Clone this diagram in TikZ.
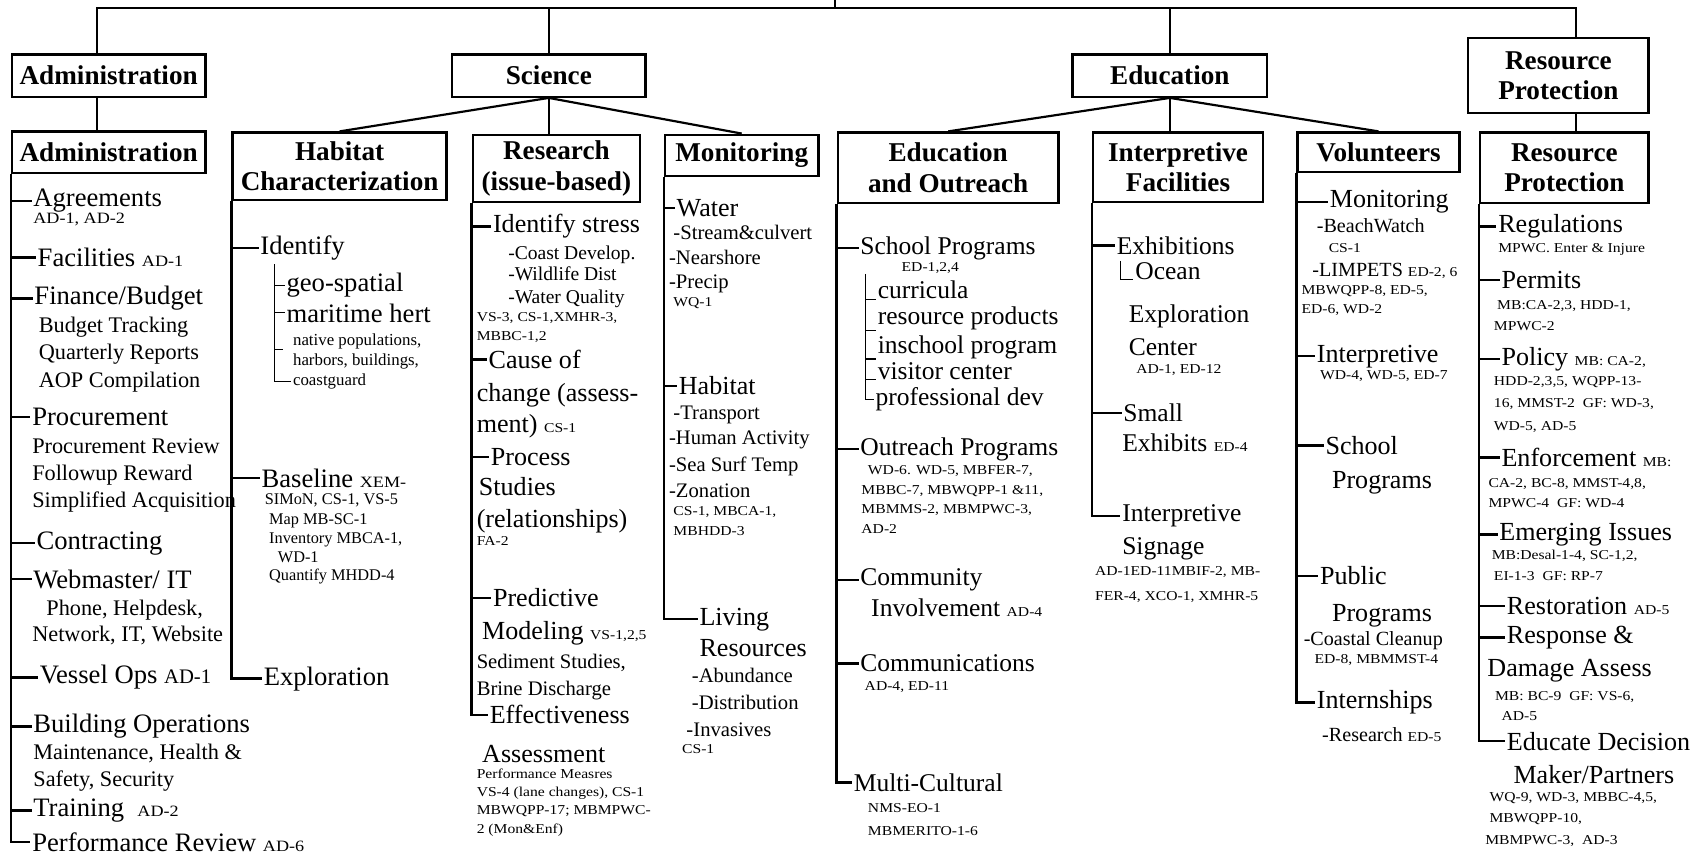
\documentclass[tikz,border=0pt]{standalone}
\usepackage{fontspec}
\setmainfont{Liberation Serif}
\newfontfamily\reffont[FakeStretch=1.15]{Liberation Serif}
\newcommand\refx[1]{{\reffont\fontsize{12.5}{12.5}\selectfont #1}}
\newcommand\refb[1]{{\reffont\fontsize{14.5}{14.5}\selectfont #1}}
\newcommand\T[5]{\node[tx,font={\fontsize{#4}{#4}\selectfont}] (#1) at (#2,{#3+0.3*#4}) {#5};}
\tikzset{
  box/.style={draw, line width=2.2pt, font={\fontsize{25}{28}\selectfont\bfseries}, align=center, inner sep=0pt},
  link/.style={line width=2pt},
  brk/.style={line width=2.2pt},
  thinl/.style={line width=1pt},
  tx/.style={anchor=base west, inner xsep=1.5pt, inner ysep=0pt},
}
\begin{document}
\begin{tikzpicture}[x=1pt,y=-1pt]
\useasboundingbox (0,0) rectangle (1568,787);
% top level boxes
\node[box, minimum width=178pt, minimum height=39pt] (ta) at (100,69.5) {Administration};
\node[box, minimum width=178pt, minimum height=39pt] (ts) at (505,69.5) {Science};
\node[box, minimum width=179pt, minimum height=39pt] (te) at (1076.5,69.5) {Education};
\node[box, minimum width=166pt, minimum height=69pt] (tr) at (1434,69.5) {Resource\\Protection};
% second level boxes
\node[box, minimum width=178pt, minimum height=38pt] (sa) at (100,140) {Administration};
\node[box, minimum width=197pt, minimum height=62pt] (sh) at (312.5,153) {Habitat\\Characterization};
\node[box, minimum width=154pt, minimum height=62pt] (sr) at (512,155) {Research\\(issue-based)};
\node[box, minimum width=141pt, minimum height=38pt] (sm) at (682.5,143) {Monitoring};
\node[box, minimum width=203pt, minimum height=65pt] (se) at (872.5,154.5) {Education\\and Outreach};
\node[box, minimum width=156pt, minimum height=64pt] (si) at (1084,154) {Interpretive\\Facilities};
\node[box, minimum width=149pt, minimum height=36pt] (sv) at (1268.5,140) {Volunteers};
\node[box, minimum width=155pt, minimum height=65pt] (sp) at (1439.5,154.5) {Resource\\Protection};
% top connectors
\coordinate (root) at (768,0);
\coordinate (j1) at (89,7.5);
\coordinate (jr) at (768,7.5);
\coordinate (j4) at (1450,7.5);
\draw[link] (root) -- (jr);
\draw[link] (j1 |- ta.north) -- (j1) -- (j4) -- (j4 |- tr.north);
\draw[link] (ts.north) -- (ts.north |- j1);
\draw[link] (te.north) -- (te.north |- j1);
\draw[link] (j1 |- ta.south) -- (j1 |- sa.north);
\draw[link] (j4 |- tr.south) -- (j4 |- sp.north);
\draw[link] (ts.south) -- (sh.north);
\draw[link] (ts.south) -- (ts.south |- sr.north);
\draw[link] (ts.south) -- (sm.north);
\draw[link] (te.south) -- (se.north);
\draw[link] (te.south) -- (te.south |- si.north);
\draw[link] (te.south) -- (sv.north);

% ---------- Column 1: Administration
\T{a1}{29}{183}{24.5}{Agreements}
\T{a1b}{29}{201}{14.5}{\refb{AD-1, AD-2}}
\T{a2}{33}{238}{24.5}{Facilities \refb{AD-1}}
\T{a3}{30}{273}{24.5}{Finance/Budget}
\T{a3b}{34}{300}{20.5}{Budget Tracking}
\T{a3c}{34}{325}{20.5}{Quarterly Reports}
\T{a3d}{34}{350}{20.5}{AOP Compilation}
\T{a4}{28}{384}{24.5}{Procurement}
\T{a4b}{28}{411}{20.5}{Procurement Review}
\T{a4c}{28}{436}{20.5}{Followup Reward}
\T{a4d}{28}{461}{20.5}{Simplified Acquisition}
\T{a5}{32}{498}{24.5}{Contracting}
\T{a6}{29}{534}{24.5}{Webmaster/ IT}
\T{a6b}{41}{560}{20.5}{Phone, Helpdesk,}
\T{a6c}{28}{584}{20.5}{Network, IT, Website}
\T{a7}{35}{622}{24.5}{Vessel Ops {\fontsize{19}{19}\selectfont AD-1}}
\T{a8}{29}{667}{24.5}{Building Operations}
\T{a8b}{29}{693}{20.5}{Maintenance, Health \&}
\T{a8c}{29}{718}{20.5}{Safety, Security}
\T{a9}{29}{744}{24.5}{Training \ \refb{AD-2}}
\T{a10}{28}{776}{24.5}{Performance Review \refb{AD-6}}
\foreach \n in {a1,a2,a3,a4,a5,a6,a7,a8,a9}
  \draw[brk] (sa.south west |- \n.west) -- (\n.west);
\draw[brk] (sa.south west) |- (a10.west);

% ---------- Column 2: Habitat Characterization
\T{b1}{238}{227}{24.5}{Identify}
\T{b2}{262}{261}{24.5}{geo-spatial}
\T{b3}{262}{289}{24.5}{maritime hert}
\T{b4}{268}{313}{15.5}{native populations,}
\T{b5}{268}{332}{15.5}{harbors, buildings,}
\T{b6}{268}{350}{15.5}{coastguard}
\T{b7}{239}{441}{24.5}{Baseline \refb{XEM-}}
\T{b8}{242}{460}{15}{SIMoN, CS-1, VS-5}
\T{b9}{246}{478}{15}{Map MB-SC-1}
\T{b10}{246}{496}{15}{Inventory MBCA-1,}
\T{b11}{254}{513}{15}{WD-1}
\T{b12}{246}{530}{15}{Quantify MHDD-4}
\T{b13}{241}{623}{24.5}{Exploration}
\foreach \n in {b1,b7}
  \draw[brk] (sh.south west |- \n.west) -- (\n.west);
\draw[brk] (sh.south west) |- (b13.west);
\coordinate (bs) at (253,243);
\coordinate (bx) at (260,322);
\draw[thinl] (bs) |- (b6.west);
\foreach \n in {b2,b3}
  \draw[thinl] (bs |- \n.west) -- (\n.west);
\draw[thinl] (bs |- bx) -- (bx);

% ---------- Column 3: Research
\T{c1}{452}{207}{24}{Identify stress}
\T{c2}{466}{233}{18}{-Coast Develop.}
\T{c3}{466}{253}{18}{-Wildlife Dist}
\T{c4}{466}{274}{18}{-Water Quality}
\T{c5}{437}{292}{12.5}{\refx{VS-3, CS-1,XMHR-3,}}
\T{c6}{437}{310}{12.5}{\refx{MBBC-1,2}}
\T{c7}{448}{332}{24}{Cause of}
\T{c8}{437}{362}{24}{change (assess-}
\T{c9}{437}{391}{24}{ment) \refx{CS-1}}
\T{c10}{450}{421}{24}{Process}
\T{c11}{439}{449}{24}{Studies}
\T{c12}{437}{478}{24}{(relationships)}
\T{c13}{437}{498}{12.5}{\refx{FA-2}}
\T{c14}{452}{551}{24}{Predictive}
\T{c15}{442}{581}{24}{Modeling \refx{VS-1,2,5}}
\T{c16}{437}{609}{19}{Sediment Studies,}
\T{c17}{437}{634}{19}{Brine Discharge}
\T{c18}{449}{659}{24}{Effectiveness}
\T{c19}{442}{694}{24}{Assessment}
\T{c20}{437}{713}{12.5}{\refx{Performance Measres}}
\T{c21}{437}{729}{12.5}{\refx{VS-4 (lane changes), CS-1}}
\T{c22}{437}{746}{12.5}{\refx{MBWQPP-17; MBMPWC-}}
\T{c23}{437}{763}{12.5}{\refx{2 (Mon\&Enf)}}
\foreach \n in {c1,c7,c10,c14}
  \draw[brk] (sr.south west |- \n.west) -- (\n.west);
\draw[brk] (sr.south west) |- (c18.west);

% ---------- Column 4: Monitoring
\T{d1}{621}{192}{24}{Water}
\T{d2}{618}{215}{19}{-Stream\&culvert}
\T{d3}{614}{238}{19}{-Nearshore}
\T{d4}{614}{260}{19}{-Precip}
\T{d5}{618}{278}{12.5}{\refx{WQ-1}}
\T{d6}{623}{356}{24}{Habitat}
\T{d7}{618}{380}{19}{-Transport}
\T{d8}{614}{403}{19}{-Human Activity}
\T{d9}{614}{428}{19}{-Sea Surf Temp}
\T{d10}{614}{452}{19}{-Zonation}
\T{d11}{618}{471}{12.5}{\refx{CS-1, MBCA-1,}}
\T{d12}{618}{489}{12.5}{\refx{MBHDD-3}}
\T{d13}{642}{568}{24}{Living}
\T{d14}{642}{597}{24}{Resources}
\T{d15}{635}{622}{19}{-Abundance}
\T{d16}{635}{647}{19}{-Distribution}
\T{d17}{630}{672}{19}{-Invasives}
\T{d18}{626}{690}{12.5}{\refx{CS-1}}
\foreach \n in {d1,d6}
  \draw[brk] (sm.south west |- \n.west) -- (\n.west);
\draw[brk] (sm.south west) |- (d13.west);

% ---------- Column 5: Education and Outreach
\T{e1}{790}{227}{23.5}{School Programs}
\T{e2}{828}{246}{12.5}{\refx{ED-1,2,4}}
\T{e3}{806}{268}{23.5}{curricula}
\T{e4}{806}{292}{23.5}{resource products}
\T{e5}{806}{318}{23.5}{inschool program}
\T{e6}{806}{342}{23.5}{visitor center}
\T{e7}{804}{366}{23.5}{professional dev}
\T{e8}{790}{412}{23.5}{Outreach Programs}
\T{e9}{797}{433}{12.5}{\refx{WD-6. WD-5, MBFER-7,}}
\T{e10}{791}{451}{12.5}{\refx{MBBC-7, MBWQPP-1 \&11,}}
\T{e11}{791}{469}{12.5}{\refx{MBMMS-2, MBMPWC-3,}}
\T{e12}{791}{487}{12.5}{\refx{AD-2}}
\T{e13}{790}{532}{23.5}{Community}
\T{e14}{800}{560}{23.5}{Involvement \refx{AD-4}}
\T{e15}{790}{611}{23.5}{Communications}
\T{e16}{794}{632}{12.5}{\refx{AD-4, ED-11}}
\T{e17}{784}{721}{23.5}{Multi-Cultural}
\T{e18}{797}{744}{12.5}{\refx{NMS-EO-1}}
\T{e19}{797}{765}{12.5}{\refx{MBMERITO-1-6}}
\foreach \n in {e1,e8,e13,e15}
  \draw[brk] (se.south west |- \n.west) -- (\n.west);
\draw[brk] (se.south west) |- (e17.west);
\coordinate (es) at (796,252);
\draw[thinl] (es) |- (e7.west);
\foreach \n in {e3,e4,e5,e6}
  \draw[thinl] (es |- \n.south west) -- (\n.south west);

% ---------- Column 6: Interpretive Facilities
\T{f1}{1026}{227}{23.5}{Exhibitions}
\T{f2}{1043}{250}{23.5}{Ocean}
\T{f3}{1037}{290}{23.5}{Exploration}
\T{f4}{1037}{320}{23.5}{Center}
\T{f5}{1044}{340}{12.5}{\refx{AD-1, ED-12}}
\T{f6}{1032}{381}{23.5}{Small}
\T{f7}{1031}{408}{23.5}{Exhibits \refx{ED-4}}
\T{f8}{1031}{473}{23.5}{Interpretive}
\T{f9}{1031}{503}{23.5}{Signage}
\T{f10}{1006}{526}{12.5}{\refx{AD-1ED-11MBIF-2, MB-}}
\T{f11}{1006}{549}{12.5}{\refx{FER-4, XCO-1, XMHR-5}}
\foreach \n in {f1,f6}
  \draw[brk] (si.south west |- \n.west) -- (\n.west);
\draw[brk] (si.south west) |- (f8.west);
\coordinate (fo) at (1031,240);
\draw[thinl] (fo) |- (f2.south west);

% ---------- Column 7: Volunteers
\T{g1}{1222}{184}{24}{Monitoring}
\T{g2}{1210}{208}{18.5}{-BeachWatch}
\T{g3}{1221}{229}{12.5}{\refx{CS-1}}
\T{g4}{1206}{249}{18.5}{-LIMPETS \refx{ED-2, 6}}
\T{g5}{1196}{267}{12.5}{\refx{MBWQPP-8, ED-5,}}
\T{g6}{1196}{285}{12.5}{\refx{ED-6, WD-2}}
\T{g7}{1210}{326}{24}{Interpretive}
\T{g8}{1213}{345}{12.5}{\refx{WD-4, WD-5, ED-7}}
\T{g9}{1218}{411}{24}{School}
\T{g10}{1224}{442}{24}{Programs}
\T{g11}{1213}{531}{24}{Public}
\T{g12}{1224}{565}{24}{Programs}
\T{g13}{1198}{588}{18.5}{-Coastal Cleanup}
\T{g14}{1208}{607}{12.5}{\refx{ED-8, MBMMST-4}}
\T{g15}{1210}{645}{24}{Internships}
\T{g16}{1215}{677}{18.5}{-Research \refx{ED-5}}
\foreach \n in {g1,g7,g9,g11}
  \draw[brk] (sv.south west |- \n.west) -- (\n.west);
\draw[brk] (sv.south west) |- (g15.west);

% ---------- Column 8: Resource Protection
\T{h1}{1377}{207}{24}{Regulations}
\T{h2}{1377}{229}{12.5}{\refx{MPWC. Enter \& Injure}}
\T{h3}{1380}{258}{24}{Permits}
\T{h4}{1376}{281}{12.5}{\refx{MB:CA-2,3, HDD-1,}}
\T{h5}{1373}{300}{12.5}{\refx{MPWC-2}}
\T{h6}{1380}{329}{24}{Policy \refx{MB: CA-2,}}
\T{h7}{1373}{351}{12.5}{\refx{HDD-2,3,5, WQPP-13-}}
\T{h8}{1373}{371}{12.5}{\refx{16, MMST-2 \ GF: WD-3,}}
\T{h9}{1373}{392}{12.5}{\refx{WD-5, AD-5}}
\T{h10}{1380}{422}{24}{Enforcement \refx{MB:}}
\T{h11}{1368}{445}{12.5}{\refx{CA-2, BC-8, MMST-4,8,}}
\T{h12}{1368}{463}{12.5}{\refx{MPWC-4 \ GF: WD-4}}
\T{h13}{1378}{490}{24}{Emerging Issues}
\T{h14}{1371}{511}{12.5}{\refx{MB:Desal-1-4, SC-1,2,}}
\T{h15}{1373}{530}{12.5}{\refx{EI-1-3 \ GF: RP-7}}
\T{h16}{1385}{558}{24}{Restoration \refx{AD-5}}
\T{h17}{1385}{585}{24}{Response \&}
\T{h18}{1367}{615}{24}{Damage Assess}
\T{h19}{1374}{641}{12.5}{\refx{MB: BC-9 \ GF: VS-6,}}
\T{h20}{1380}{659}{12.5}{\refx{AD-5}}
\T{h21}{1385}{683}{24}{Educate Decision}
\T{h22}{1391}{714}{24}{Maker/Partners}
\T{h23}{1369}{734}{12.5}{\refx{WQ-9, WD-3, MBBC-4,5,}}
\T{h24}{1369}{753}{12.5}{\refx{MBWQPP-10,}}
\T{h25}{1365}{773}{12.5}{\refx{MBMPWC-3, \ AD-3}}
\foreach \n in {h1,h3,h6,h10,h13,h16,h17}
  \draw[brk] (sp.south west |- \n.west) -- (\n.west);
\draw[brk] (sp.south west) |- (h21.west);
\end{tikzpicture}
\end{document}
